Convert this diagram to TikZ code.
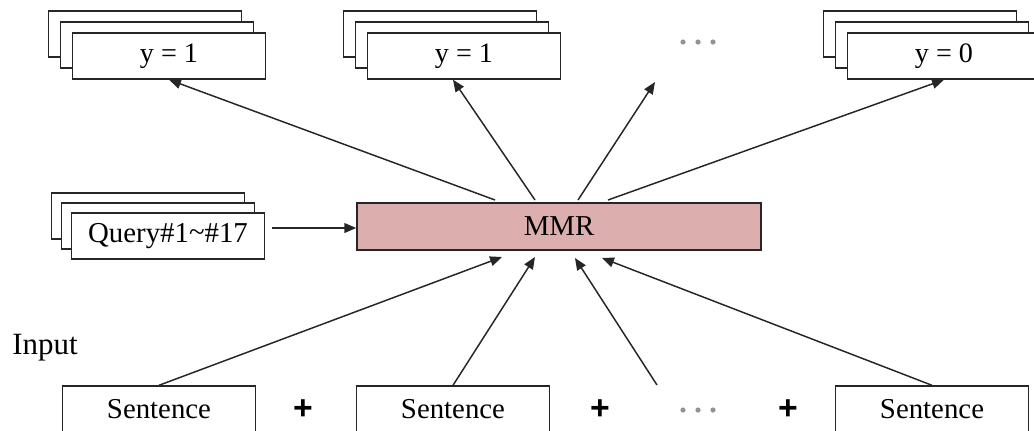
\documentclass[tikz,border=0pt]{standalone}
\usepackage{fontspec}
\setmainfont{Liberation Serif}
\newfontfamily\plusfont{Liberation Sans}
\usetikzlibrary{arrows.meta}
\definecolor{mmrfill}{HTML}{DDAEAE}
\tikzset{
  plainbox/.style={draw=black!85, line width=1pt, fill=white, minimum width=4.83cm,
    minimum height=1.15cm, inner sep=0pt, font=\fontsize{20}{24}\selectfont},
  sentbox/.style={plainbox, font=\fontsize{20.5}{24}\selectfont},
  conn/.style={line width=1.05pt, draw=black!85,
    -{Triangle[length=8.5pt,width=7pt]}},
  plus/.style={inner sep=0pt, font=\plusfont\bfseries\fontsize{24}{24}\selectfont},
  dot/.style={fill=gray!85, draw=none},
}
\begin{document}
\begin{tikzpicture}[x=0.025cm, y=-0.025cm]
\useasboundingbox (0,0) rectangle (1034,430);

% output label stacks
\node[plainbox] (y1c) at (145,34) {};
\node[plainbox] (y1b) at (157,45) {};
\node[plainbox] (y1)  at (169,56) {y = 1};

\node[plainbox] (y2c) at (440,34) {};
\node[plainbox] (y2b) at (452,45) {};
\node[plainbox] (y2)  at (464,56) {y = 1};

\node[plainbox] (y3c) at (920,34) {};
\node[plainbox] (y3b) at (932,45) {};
\node[plainbox] (y3)  at (944,56) {y = 0};

% ellipsis between outputs
\node[inner sep=0pt, minimum size=4pt] (topdots) at (698,42) {};
\fill[dot] (683,42) circle (2.6);
\fill[dot] (698,42) circle (2.6);
\fill[dot] (713,42) circle (2.6);

% query stack
\node[plainbox] (q3) at (148,216) {};
\node[plainbox] (q2) at (158,226) {};
\node[sentbox]  (q)  at (168,236) {Query\#1\raisebox{0.1ex}{\char"007E}\#17};

% model
\node[draw=black!85, line width=1pt, fill=mmrfill, minimum width=10.1cm,
  minimum height=1.175cm, inner sep=0pt, font=\fontsize{20.5}{24}\selectfont]
  (mmr) at (559,226.5) {MMR};

\coordinate (qa) at (272,228);
\draw[conn] (qa) -- (mmr.west |- qa);

% input label and sentences
\node[inner sep=0pt, font=\fontsize{22}{26}\selectfont] (inp) at (45,348) {Input};

\node[sentbox] (s1) at (159,409) {Sentence};
\node[sentbox] (s2) at (453,409) {Sentence};
\node[sentbox] (s3) at (932,409) {Sentence};

\node[plus] (p1) at (303,410) {+};
\node[plus] (p2) at (600,410) {+};
\node[plus] (p3) at (788,410) {+};

\node[inner sep=0pt, minimum size=4pt] (botdots) at (698,410) {};
\fill[dot] (683,410) circle (2.6);
\fill[dot] (698,410) circle (2.6);
\fill[dot] (713,410) circle (2.6);

% outgoing connectors
\coordinate (o1) at (495,200);
\coordinate (o2) at (535,200);
\coordinate (o3) at (578,200);
\coordinate (o4) at (608,200);
\coordinate (free1) at (655,82);
\draw[conn] (o1) -- (y1.south);
\draw[conn] (o2) -- ([xshift=-0.275cm]y2.south);
\draw[conn] (o3) -- (free1);
\draw[conn] (o4) -- (y3.south);

% incoming connectors
\coordinate (i1) at (502,257);
\coordinate (i2) at (535,257);
\coordinate (i3) at (575,258);
\coordinate (i4) at (602,258);
\coordinate (free2) at (657,385);
\draw[conn] (s1.north) -- (i1);
\draw[conn] (s2.north) -- (i2);
\draw[conn] (free2) -- (i3);
\draw[conn] (s3.north) -- (i4);
\end{tikzpicture}
\end{document}
